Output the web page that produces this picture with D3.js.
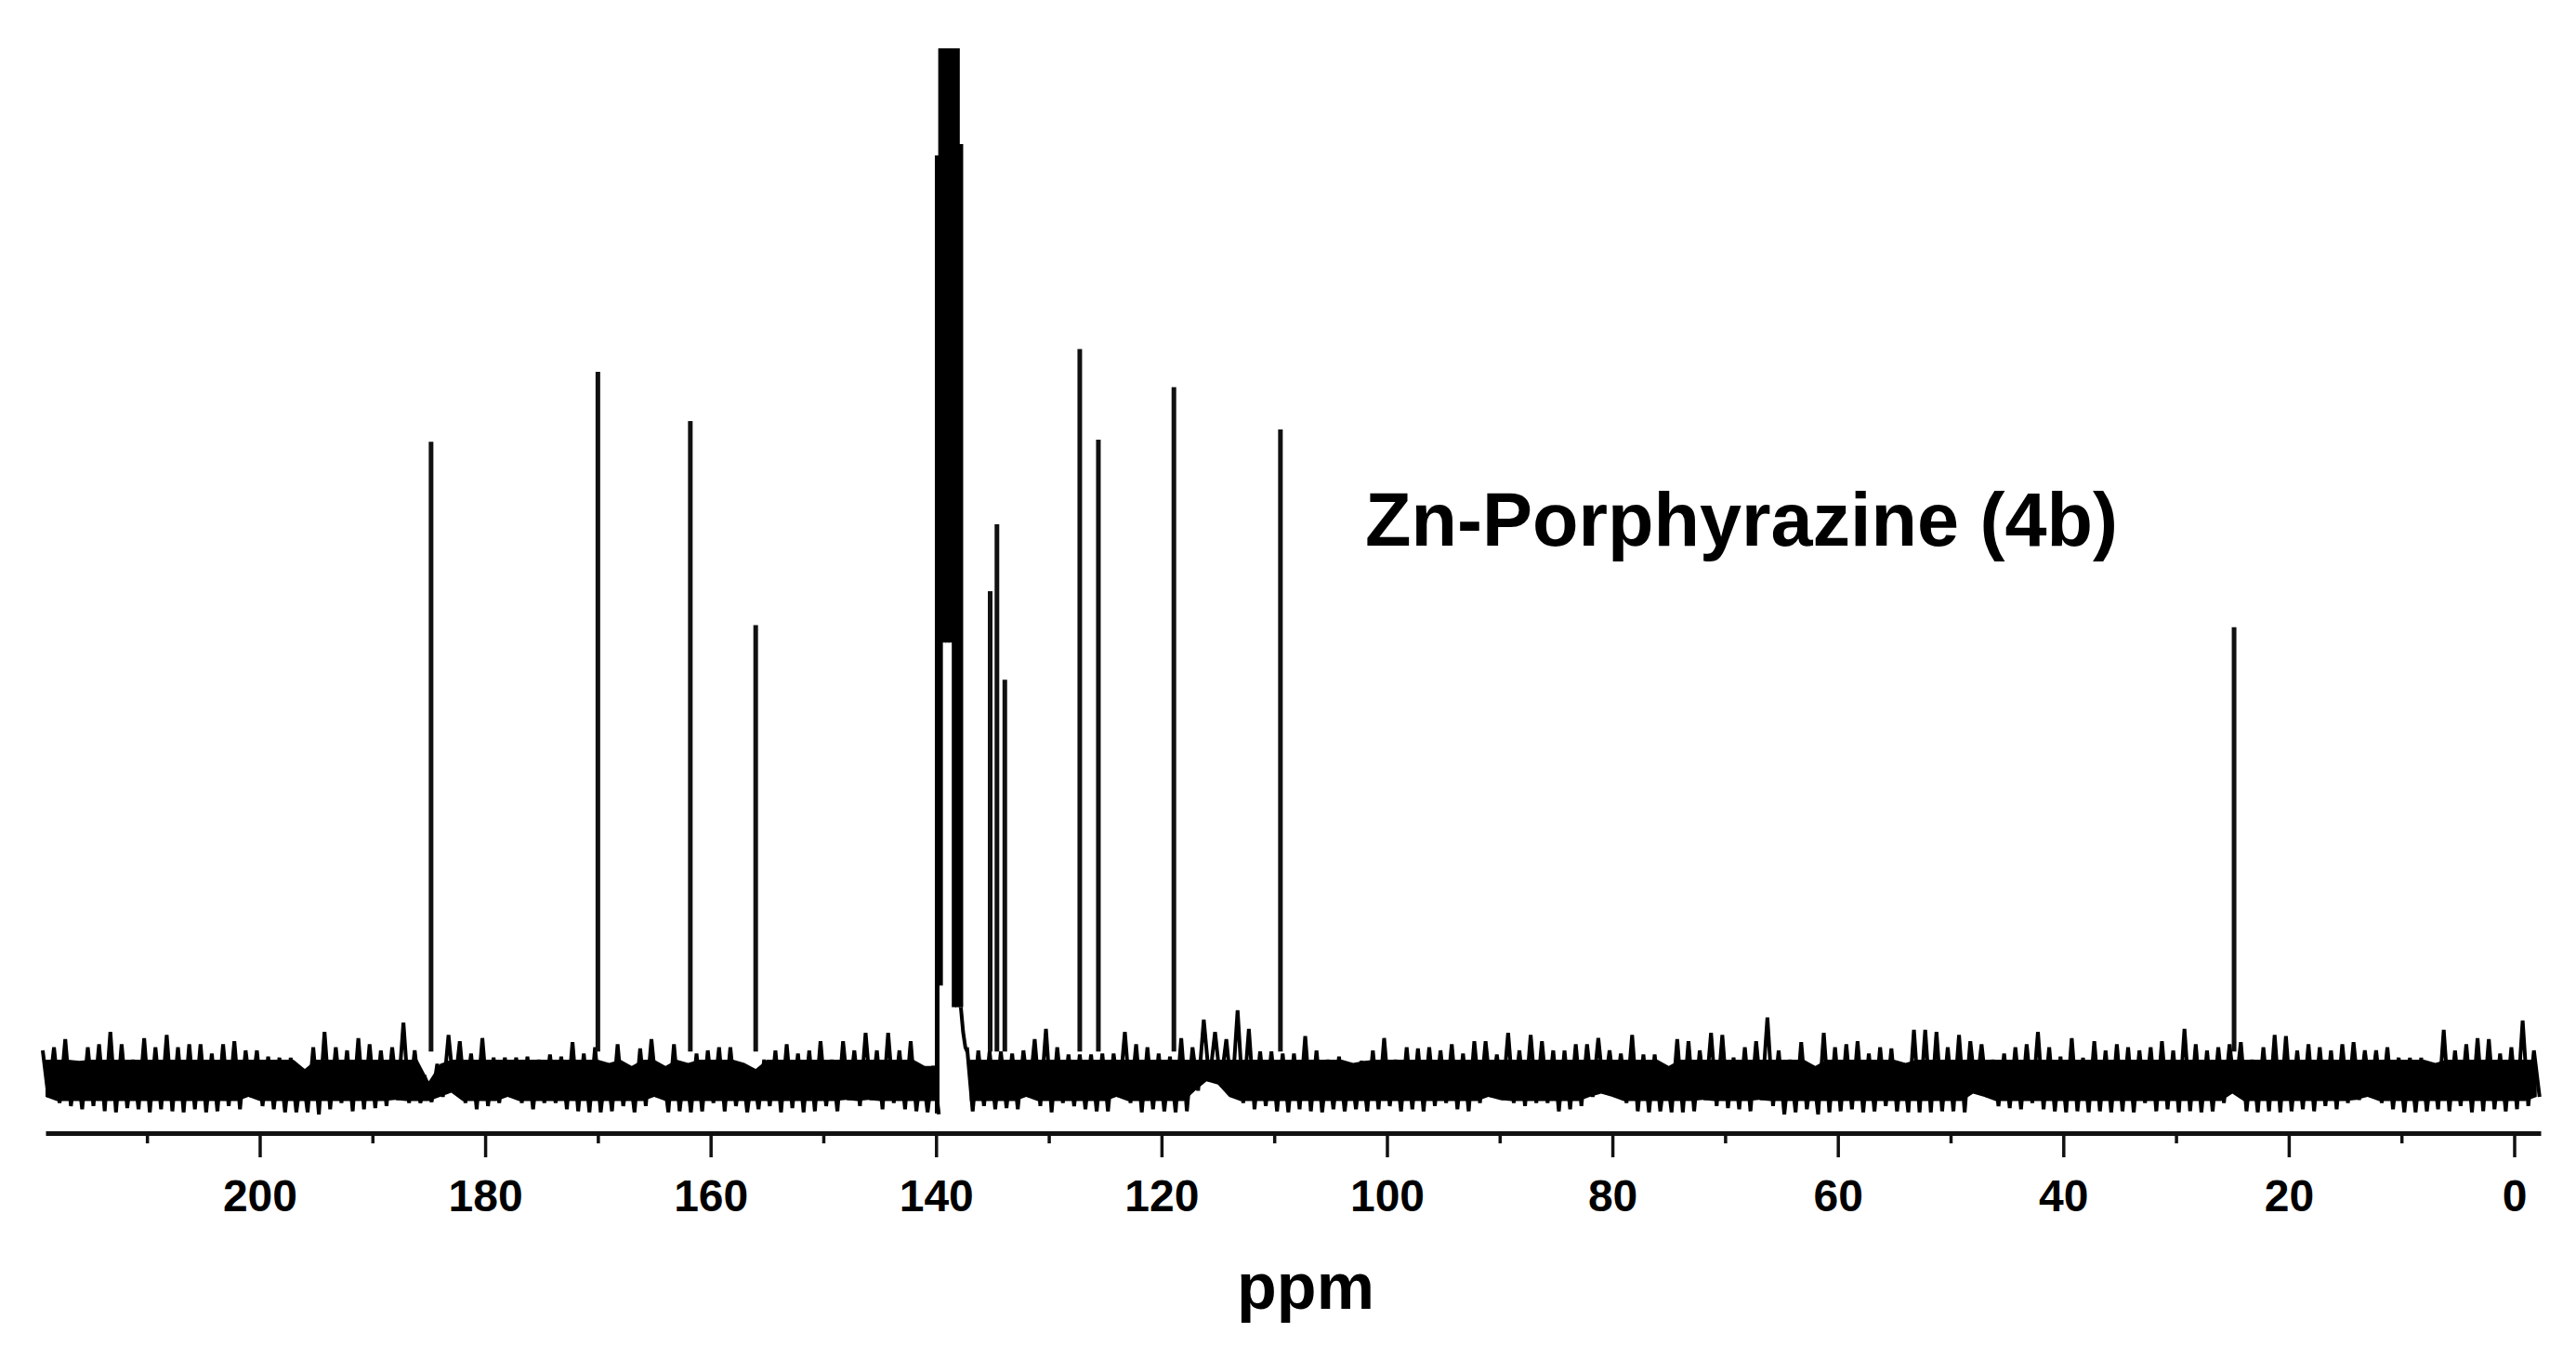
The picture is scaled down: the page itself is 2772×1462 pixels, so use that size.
<!DOCTYPE html>
<html>
<head>
<meta charset="utf-8">
<title>Zn-Porphyrazine (4b)</title>
<script src="https://cdn.jsdelivr.net/npm/d3@7"></script>
<style>
  html, body { margin: 0; padding: 0; background: #fff; }
  svg { display: block; font-family: 'Liberation Sans', Arial, sans-serif; }
</style>
</head>
<body>
<svg class="nmr-chart"></svg>
<script>
'use strict';

//Texts and axis ticks
var chartTitle = 'Zn-Porphyrazine (4b)';
var axisTitle = 'ppm';
var majorTicks = [200, 180, 160, 140, 120, 100, 80, 60, 40, 20, 0];
var minorTicks = [210, 190, 170, 150, 130, 110, 90, 70, 50, 30, 10];

//Single resonance lines (ppm, intensity)
var peakPpm = [184.8, 170.0, 161.8, 156.0, 135.2, 134.6, 133.9, 127.25, 125.6, 118.9, 109.45, 24.85];
var peakHeight = [618, 686, 638, 440, 473, 538, 387, 708, 620, 671, 630, 438];
var peakFoot = 26;

//Strong multiplet near 139 ppm (each line: ppm, low, high)
var clusterPpm = [139.9, 139.6, 139.3, 139.0, 138.7, 138.4, 138.1, 137.8];
var clusterLow = [-34, 90, 423, 423, 423, 69, 69, 69];
var clusterHigh = [896, 1000, 1000, 1000, 1000, 1000, 1000, 907];

//Tail on the right foot of the multiplet
var tailPpm = [137.8, 137.6, 137.4, 137.2];
var tailHeight = [69, 45, 30, 25];

//Solid part of the noise band (top, bottom)
var noiseCore = [18, -22];

//Baseline noise envelope, one sample per ppm from 219 down to -2
var noiseTop = [
  27, 30, 38, 17, 30, 33, 45, 33, 18, 39,
  30, 42, 30, 33, 33, 24, 33, 36, 27, 27,
  21, 20, 20, 9, 30, 45, 30, 27, 39, 33,
  27, 30, 54, 27, -3, 14, 42, 36, 24, 39,
  20, 20, 20, 21, 18, 23, 21, 35, 24, 30,
  15, 33, 12, 29, 38, 12, 33, 15, 24, 27,
  30, 30, 15, 9, 18, 27, 33, 24, 27, 36,
  18, 36, 27, 44, 27, 44, 27, 36, 12, 12,
  null, null, 30, 27, 26, 26, 24, 27, 38, 48,
  30, 23, 23, 23, 24, 24, 45, 33, 30, 24,
  21, 39, 30, 57, 45, 38, 66, 48, 26, 26,
  24, 24, 41, 27, 18, 21, 15, 17, 27, 39,
  18, 30, 29, 30, 27, 33, 24, 36, 36, 23,
  44, 27, 42, 36, 27, 27, 33, 33, 39, 27,
  24, 42, 23, 23, 12, 38, 36, 27, 44, 42,
  20, 30, 36, 59, 27, 18, 35, 12, 44, 30,
  33, 36, 24, 30, 29, 15, 47, 47, 45, 30,
  42, 36, 33, 18, 24, 30, 33, 45, 30, 21,
  39, 20, 36, 27, 33, 30, 27, 30, 36, 27,
  48, 33, 27, 30, 33, 35, 18, 30, 42, 41,
  27, 33, 30, 27, 33, 35, 27, 27, 30, 20,
  20, 20, 15, 47, 27, 33, 39, 38, 24, 30,
  56, 27
];
var noiseBottom = [
  -18, -24, -27, -30, -27, -32, -33, -29, -30, -33,
  -30, -32, -33, -30, -33, -32, -27, -30, -18, -27,
  -30, -33, -33, -33, -35, -30, -24, -32, -30, -29,
  -27, -21, -24, -24, -23, -18, -14, -24, -30, -27,
  -24, -18, -24, -30, -24, -24, -30, -32, -33, -33,
  -32, -27, -33, -27, -18, -33, -32, -33, -32, -24,
  -32, -27, -33, -30, -27, -33, -29, -33, -32, -27,
  -32, -21, -27, -21, -30, -24, -30, -32, -33, -35,
  null, null, -32, -27, -30, -29, -30, -18, -27, -33,
  -24, -27, -30, -32, -32, -18, -24, -33, -30, -32,
  -33, -32, -12, -3, -6, -18, -24, -30, -27, -32,
  -33, -30, -32, -33, -30, -32, -30, -32, -30, -27,
  -32, -30, -32, -27, -24, -30, -32, -24, -18, -21,
  -24, -27, -24, -24, -32, -30, -27, -18, -15, -18,
  -24, -32, -33, -32, -33, -33, -32, -21, -27, -29,
  -30, -32, -21, -27, -35, -33, -30, -35, -33, -32,
  -30, -33, -32, -27, -32, -33, -33, -33, -32, -32,
  -33, -15, -18, -27, -29, -30, -24, -30, -32, -33,
  -32, -33, -32, -33, -32, -33, -24, -32, -30, -33,
  -32, -33, -32, -24, -15, -32, -33, -32, -33, -32,
  -30, -32, -27, -30, -24, -21, -18, -24, -30, -33,
  -33, -32, -30, -32, -27, -33, -32, -30, -32, -30,
  -27, -18
];
var noisePpm = d3.range(219, -3, -1);

function drawSpectrum(width, height) {
  //Parameters for svg element
  var margin = { top: 52, right: 38, left: 49 };
  var baseY = 1160;
  var axisY = 1219;

  var xScale = d3.scaleLinear().domain([219, -2.35]).range([margin.left, width - margin.right]);
  var yScale = d3.scaleLinear().domain([0, 1000]).range([baseY, margin.top]);

  var svg = d3.select('svg.nmr-chart').attr('width', width).attr('height', height);
  var graph = svg.append('g').classed('groups', true);

  var noiseData = noisePpm.map(function (p, i) {
    return { ppm: p, top: noiseTop[i], bottom: noiseBottom[i] };
  });

  //Solid core of the noise band
  var core = d3.area().defined(function (d) {
    return d.top !== null;
  }).x(function (d) {
    return xScale(d.ppm);
  }).y0(function (d) {
    return yScale(Math.max(noiseCore[1], d.bottom));
  }).y1(function (d) {
    return yScale(Math.min(noiseCore[0], d.top));
  });
  graph.append('path').datum(noiseData).attr('d', core).attr('fill', '#000');

  //Noise trace: swings from the top to the bottom of every sample
  var tracePts = [];
  noiseData.forEach(function (d) {
    if (d.top === null) {
      tracePts.push(null);
    } else {
      tracePts.push({ ppm: d.ppm + 0.25, v: d.top });
      tracePts.push({ ppm: d.ppm - 0.25, v: d.bottom });
    }
  });
  var trace = d3.line().defined(function (d) {
    return d !== null;
  }).x(function (d) {
    return xScale(d.ppm);
  }).y(function (d) {
    return yScale(d.v);
  });
  graph.append('path').datum(tracePts).attr('d', trace).attr('fill', 'none').attr('stroke', '#000').attr('stroke-width', 4).attr('stroke-linejoin', 'miter');

  //Single lines
  graph.selectAll('line.peak').data(peakPpm).enter().append('line').classed('peak', true).attr('x1', function (d) {
    return xScale(d);
  }).attr('x2', function (d) {
    return xScale(d);
  }).attr('y1', yScale(peakFoot)).attr('y2', function (d, i) {
    return yScale(peakHeight[i]);
  }).attr('stroke', '#111').attr('stroke-width', 5);

  //Multiplet
  graph.selectAll('line.cluster').data(clusterPpm).enter().append('line').classed('cluster', true).attr('x1', function (d) {
    return xScale(d);
  }).attr('x2', function (d) {
    return xScale(d);
  }).attr('y1', function (d, i) {
    return yScale(clusterLow[i]);
  }).attr('y2', function (d, i) {
    return yScale(clusterHigh[i]);
  }).attr('stroke', '#000').attr('stroke-width', 5);

  var tail = d3.line().x(function (d) {
    return xScale(d);
  }).y(function (d, i) {
    return yScale(tailHeight[i]);
  });
  graph.append('path').datum(tailPpm).attr('d', tail).attr('fill', 'none').attr('stroke', '#000').attr('stroke-width', 4);

  //Draw x-axis
  var xAxis = graph.append('g').classed('x-axis', true).attr('transform', 'translate(0,' + axisY + ')').call(d3.axisBottom(xScale).tickValues(majorTicks).tickSize(26).tickSizeOuter(0).tickPadding(24).tickFormat(d3.format('d')));
  xAxis.select('.domain').attr('stroke', '#111').attr('stroke-width', 5);
  xAxis.selectAll('.tick line').attr('stroke', '#111').attr('stroke-width', 3.5);
  xAxis.selectAll('.tick text').attr('fill', '#000').style('font-size', '48px').style('font-weight', 'bold');

  var minorAxis = graph.append('g').classed('x-minor', true).attr('transform', 'translate(0,' + axisY + ')').call(d3.axisBottom(xScale).tickValues(minorTicks).tickSize(11).tickSizeOuter(0).tickFormat(''));
  minorAxis.select('.domain').remove();
  minorAxis.selectAll('.tick line').attr('stroke', '#111').attr('stroke-width', 3.5);

  //Draw x-axis label
  graph.append('text').classed('x-label', true).attr('x', 1405).attr('y', 1408).style('text-anchor', 'middle').style('font-size', '70px').style('font-weight', 'bold').text(axisTitle);

  //Compound label
  graph.append('text').classed('title', true).attr('x', 1469).attr('y', 587).style('text-anchor', 'start').style('font-size', '81px').style('font-weight', 'bold').text(chartTitle);
}

drawSpectrum(2772, 1462);
</script>
</body>
</html>
